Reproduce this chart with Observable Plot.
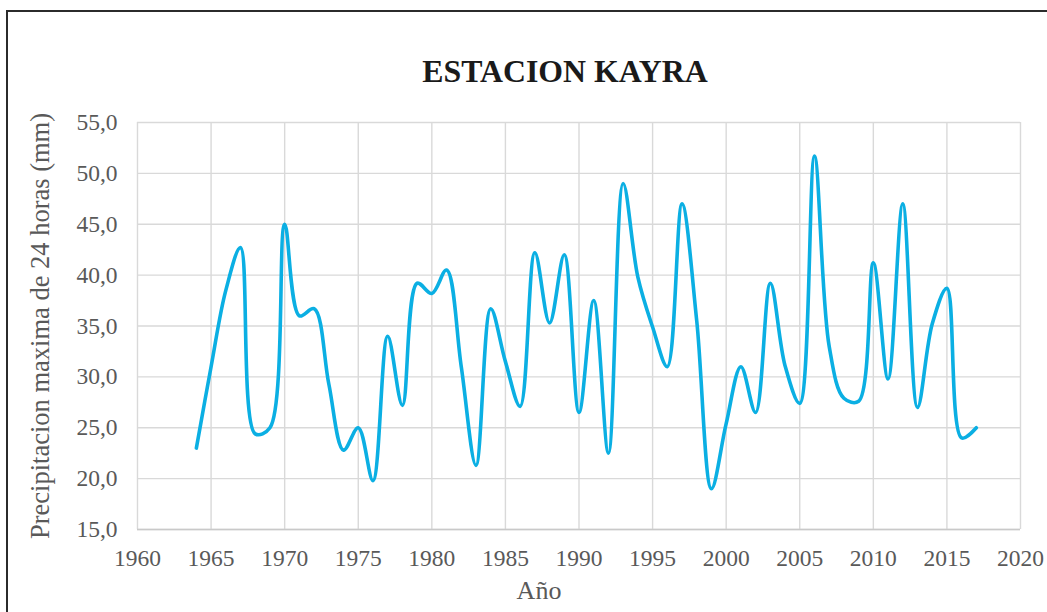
<!DOCTYPE html>
<html>
<head>
<meta charset="utf-8">
<script src="https://cdn.jsdelivr.net/npm/d3@7"></script>
<script src="https://cdn.jsdelivr.net/npm/@observablehq/plot@0.6"></script>
<style>
  html, body { margin: 0; padding: 0; background: #fff; }
  #wrap { position: relative; width: 1047px; height: 612px; overflow: hidden; }
  #frame { position: absolute; left: 6px; top: 10px; width: 1100px; height: 700px;
           border-top: 2px solid #2b2b2b; border-left: 2px solid #2b2b2b; box-sizing: border-box; }
  #chart { position: absolute; left: 0; top: 0; }
</style>
</head>
<body>
<div id="wrap"><div id="frame"></div><div id="chart"></div></div>
<script>
const years = [1964,1965,1966,1967,1968,1969,1970,1971,1972,1973,1974,1975,1976,1977,1978,1979,1980,
  1981,1982,1983,1984,1985,1986,1987,1988,1989,1990,1991,1992,1993,1994,1995,1996,1997,1998,1999,2000,
  2001,2002,2003,2004,2005,2006,2007,2008,2009,2010,2011,2012,2013,2014,2015,2016,2017];
const precip = [23.0,31.0,38.5,42.7,24.4,25.0,45.0,36.0,36.7,29.3,22.8,25.0,19.8,34.0,27.2,39.2,38.2,
  40.5,31.0,21.3,36.7,31.5,27.1,42.2,35.3,42.0,26.5,37.5,22.5,49.0,39.8,34.9,31.0,47.0,35.5,19.0,25.4,
  31.0,26.5,39.2,31.1,27.4,51.7,33.0,27.9,27.6,41.2,29.8,47.0,27.0,35.2,38.7,24.0,25.0];
const xTicks = [1960,1965,1970,1975,1980,1985,1990,1995,2000,2005,2010,2015,2020];
const yTicks = [15,20,25,30,35,40,45,50,55];
const title = "ESTACION KAYRA";
const yLabel = "Precipitacion maxima de 24 horas (mm)";
const xLabel = "Año";

const data = years.map((y, i) => ({year: y, value: precip[i]}));
const fmt = v => v.toFixed(1).replace(".", ",");
const serif = "'Liberation Serif', 'Times New Roman', serif";

const plot = Plot.plot({
  width: 1047,
  height: 612,
  marginLeft: 137,
  marginRight: 27,
  marginTop: 122,
  marginBottom: 83,
  style: {fontFamily: serif, fontSize: "23.5px", color: "#595959", background: "transparent"},
  x: {domain: [1960, 2020]},
  y: {domain: [15, 55]},
  marks: [
    Plot.gridX(xTicks, {stroke: "#d9d9d9", strokeOpacity: 1, strokeWidth: 1.4}),
    Plot.gridY(yTicks, {stroke: "#d9d9d9", strokeOpacity: 1, strokeWidth: 1.4}),
    Plot.ruleY([15], {stroke: "#c9c9c9", strokeWidth: 1.6}),
    Plot.axisX(xTicks, {tickSize: 0, tickPadding: 20, tickFormat: d => String(d), label: null, fontSize: 23.5}),
    Plot.axisY(yTicks, {tickSize: 0, tickPadding: 20, tickFormat: fmt, label: null, fontSize: 23.5}),
    Plot.line(data, {x: "year", y: "value", curve: "catmull-rom", stroke: "#0BAFE3", strokeWidth: 3.6, strokeLinejoin: "round", strokeLinecap: "round"})
  ]
});
document.getElementById("chart").appendChild(plot);

const svg = d3.select(plot);
svg.append("text").text(title)
  .attr("x", 565).attr("y", 82).attr("text-anchor", "middle")
  .attr("font-family", serif)
  .attr("font-weight", "bold").attr("font-size", 31.8).attr("fill", "#1a1a1a");
svg.append("text").text(yLabel)
  .attr("transform", "translate(49,326) rotate(-90)").attr("text-anchor", "middle")
  .attr("font-family", serif)
  .attr("font-size", 26.5).attr("fill", "#595959");
svg.append("text").text(xLabel)
  .attr("x", 539).attr("y", 599).attr("text-anchor", "middle")
  .attr("font-family", serif)
  .attr("font-size", 26).attr("fill", "#595959");
</script>
</body>
</html>
